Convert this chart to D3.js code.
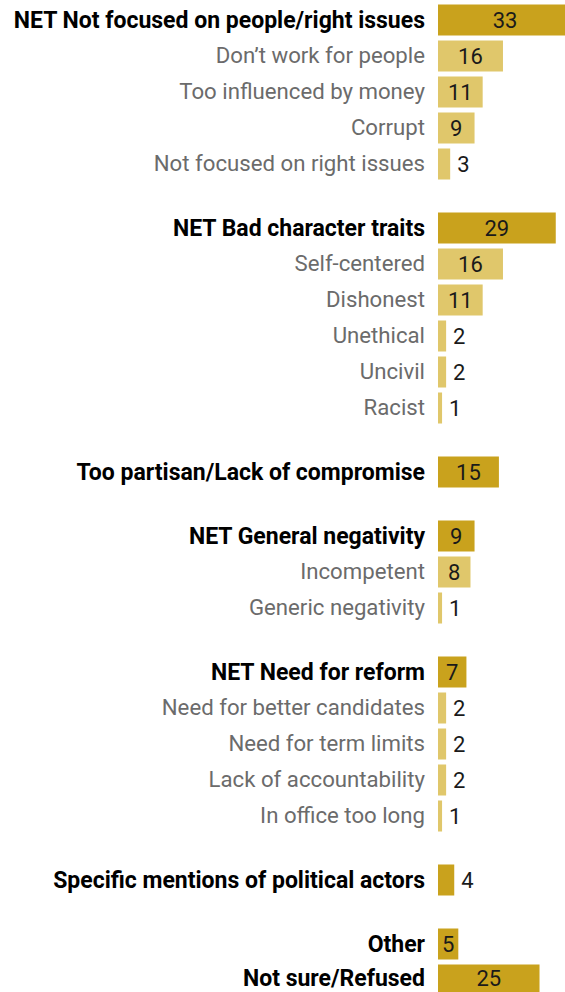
<!DOCTYPE html>
<html>
<head>
<meta charset="utf-8">
<script src="https://cdn.jsdelivr.net/npm/d3@7/dist/d3.min.js"></script>
<style>
  html, body { margin: 0; padding: 0; background: #fff; }
  svg { display: block; }
</style>
</head>
<body>
<svg id="chart" width="565" height="992"></svg>
<script>
// ---- Data ----
const categories = [
  "NET Not focused on people/right issues",
  "Don’t work for people",
  "Too influenced by money",
  "Corrupt",
  "Not focused on right issues",
  "NET Bad character traits",
  "Self-centered",
  "Dishonest",
  "Unethical",
  "Uncivil",
  "Racist",
  "Too partisan/Lack of compromise",
  "NET General negativity",
  "Incompetent",
  "Generic negativity",
  "NET Need for reform",
  "Need for better candidates",
  "Need for term limits",
  "Lack of accountability",
  "In office too long",
  "Specific mentions of political actors",
  "Other",
  "Not sure/Refused"
];
const values = [33, 16, 11, 9, 3, 29, 16, 11, 2, 2, 1, 15, 9, 8, 1, 7, 2, 2, 2, 1, 4, 5, 25];
// 1 = headline (NET / top-level) row, 0 = sub-item
const isHeadline = [1,0,0,0,0, 1,0,0,0,0,0, 1, 1,0,0, 1,0,0,0,0, 1, 1,1];
// group index for each row (gaps between groups)
const groupIndex = [0,0,0,0,0, 1,1,1,1,1,1, 2, 3,3,3, 4,4,4,4,4, 5, 6,6];

// ---- Layout ----
const W = 565, H = 992;
const svg = d3.select("#chart");
const barStart = 438;
const rowStep = 36, groupGap = 28, firstCenter = 20, barH = 31;

const x = d3.scaleLinear().domain([0, 33]).range([barStart, barStart + 134]);
const yRow = d3.scaleLinear().domain([0, 1]).range([firstCenter, firstCenter + rowStep]);
const yGap = d3.scaleLinear().domain([0, 1]).range([0, groupGap]);

const rows = categories.map((c, i) => ({
  label: c, value: values[i], head: isHeadline[i] === 1,
  cy: yRow(i) + yGap(groupIndex[i])
}));

const dark = "#C9A21D", light = "#E0C76B";
const font = "Roboto, 'Liberation Sans', sans-serif";

const g = svg.append("g");

g.selectAll("rect.bar").data(rows).join("rect")
  .attr("class", "bar")
  .attr("x", x(0))
  .attr("y", d => d.cy - barH / 2)
  .attr("width", d => x(d.value) - x(0))
  .attr("height", barH)
  .attr("fill", d => d.head ? dark : light);

// keep text boxes inside the picture (baseline at most H - 6.5)
const baseline = (cy, size) => Math.min(cy + 0.33 * size, H - 6.5);

g.selectAll("text.lab").data(rows).join("text")
  .attr("class", "lab")
  .attr("x", barStart - 13)
  .attr("y", d => baseline(d.cy, d.head ? 23 : 22.2))
  .attr("text-anchor", "end")
  .attr("font-family", font)
  .attr("font-size", d => d.head ? 23 : 22.2)
  .attr("font-weight", d => d.head ? 700 : 400)
  .attr("fill", d => d.head ? "#000" : "#6b6b6b")
  .text(d => d.label);

g.selectAll("text.val").data(rows).join("text")
  .attr("class", "val")
  .attr("x", d => d.value >= 5 ? (x(0) + x(d.value)) / 2 : x(d.value) + 7)
  .attr("y", d => baseline(d.cy + 0.5, 22))
  .attr("text-anchor", d => d.value >= 5 ? "middle" : "start")
  .attr("font-family", font)
  .attr("font-size", 22)
  .attr("fill", "#1a1a1a")
  .text(d => d.value);
</script>
</body>
</html>
